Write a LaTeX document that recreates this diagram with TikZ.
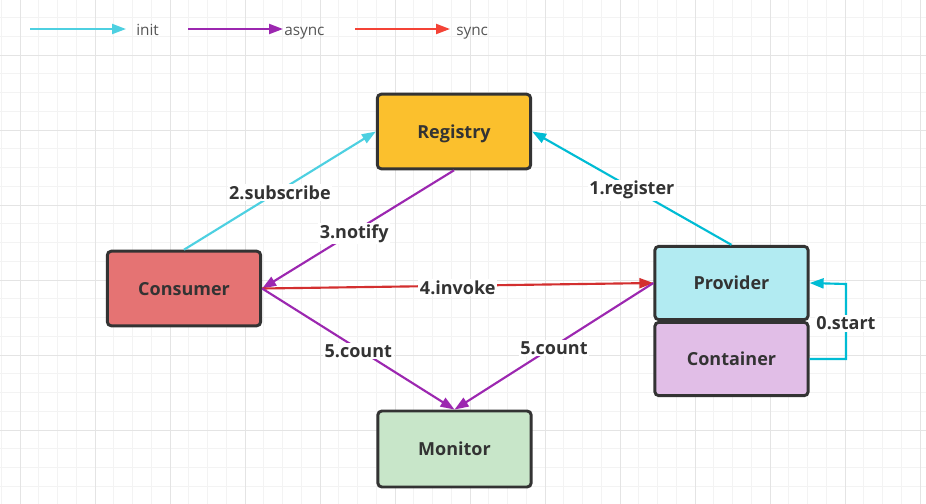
\documentclass[tikz,border=0pt]{standalone}
\usepackage{fontspec}
\setmainfont{Open Sans}
\usetikzlibrary{arrows.meta}
\definecolor{gridminor}{HTML}{F3F3F3}
\definecolor{gridmajor}{HTML}{E4E4E4}
\definecolor{txt}{HTML}{333333}
\definecolor{legtxt}{HTML}{555555}
\definecolor{initc}{HTML}{4DD0E1}
\definecolor{regc}{HTML}{00BCD4}
\definecolor{asyncc}{HTML}{9C27B0}
\definecolor{syncc}{HTML}{F44336}
\definecolor{invc}{HTML}{D32F2F}
\definecolor{regfill}{HTML}{FBC02D}
\definecolor{consfill}{HTML}{E57373}
\definecolor{provfill}{HTML}{B2EBF2}
\definecolor{contfill}{HTML}{E1BEE7}
\definecolor{monfill}{HTML}{C8E6C9}
\tikzset{
  box/.style={draw=txt, line width=2.2pt, rounded corners=3pt, minimum width=115pt, text=txt, text depth=0pt, font=\bfseries\fontsize{13.5}{15}\selectfont},
  conn/.style={line width=1.6pt, -{Triangle[length=10.5pt,width=7.5pt]}},
  lbl/.style={fill=white, text=txt, inner sep=1.2pt, yshift=-1.5pt, font=\bfseries\fontsize{13.5}{15}\selectfont},
  leg/.style={text=legtxt, font=\fontsize{11.5}{13}\selectfont, anchor=base west, inner sep=0pt},
}
\begin{document}
\begin{tikzpicture}[x=0.75pt,y=-0.75pt]
\useasboundingbox (0,0) rectangle (926,504);
\fill[white] (0,0) rectangle (926,504);
% grid
\foreach \k in {0,...,49} \draw[gridminor, line width=0.75pt] ({1.25+18.75*\k},0) -- ({1.25+18.75*\k},504);
\foreach \k in {0,...,27} \draw[gridminor, line width=0.75pt] (0,{-1.25+18.75*\k}) -- (926,{-1.25+18.75*\k});
\foreach \k in {0,...,12} \draw[gridmajor, line width=0.75pt] ({20+75*\k},0) -- ({20+75*\k},504);
\foreach \k in {0,...,6} \draw[gridmajor, line width=0.75pt] (0,{55+75*\k}) -- (926,{55+75*\k});
% nodes
\node[box, fill=regfill, minimum height=56pt] (reg) at (454,131.5) {Registry};
\node[box, fill=consfill, minimum height=56pt] (cons) at (184,288.5) {Consumer};
\node[box, fill=provfill, minimum height=55pt] (prov) at (731.5,283) {Provider};
\node[box, fill=contfill, minimum height=55pt] (cont) at (731.5,359) {Container};
\node[box, fill=monfill, minimum height=57pt] (mon) at (454.5,449) {Monitor};
% connectors
\draw[conn, initc] (cons.north) -- node[lbl]{2.subscribe} (reg.west);
\draw[conn, asyncc] (reg.south) -- node[lbl, pos=0.52]{3.notify} (cons.east);
\draw[conn, regc] (prov.north) -- node[lbl]{1.register} (reg.east);
\draw[conn, invc] (cons.east) -- node[lbl]{4.invoke} (prov.west);
\draw[conn, asyncc] (cons.east) -- node[lbl]{5.count} (mon.north);
\draw[conn, asyncc] (prov.west) -- node[lbl]{5.count} (mon.north);
\coordinate (sa) at (846,359);
\coordinate (sb) at (846,284);
\draw[conn, regc] (cont.east) -- (sa) -- node[lbl]{0.start} (sb) -- (prov.east);
% legend
\coordinate (l1a) at (30,29); \coordinate (l1b) at (126,29);
\coordinate (l2a) at (188,29); \coordinate (l2b) at (283,29);
\coordinate (l3a) at (355,29); \coordinate (l3b) at (450,29);
\draw[conn, initc] (l1a) -- (l1b);
\node[leg] (t1) at (136,35.5) {init};
\draw[conn, asyncc] (l2a) -- (l2b);
\node[leg] (t2) at (284,35.5) {async};
\draw[conn, syncc] (l3a) -- (l3b);
\node[leg] (t3) at (456,35.5) {sync};
\end{tikzpicture}
\end{document}
